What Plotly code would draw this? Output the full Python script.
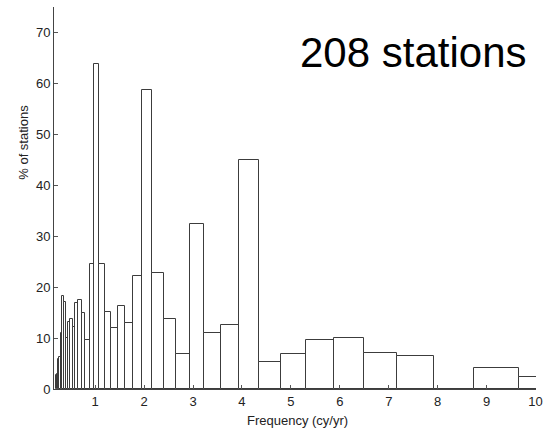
import plotly.graph_objects as go

# Histogram bin edges (frequency, cy/yr) and heights (% of stations)
bin_edges = [0.198, 0.219, 0.242, 0.267, 0.295, 0.326, 0.360, 0.398, 0.440, 0.486,
             0.537, 0.593, 0.655, 0.724, 0.800, 0.884, 0.977, 1.079, 1.193, 1.318,
             1.457, 1.610, 1.779, 1.966, 2.17, 2.40, 2.66, 2.93, 3.23, 3.58,
             3.94, 4.34, 4.80, 5.31, 5.88, 6.49, 7.17, 7.93, 8.74, 9.66, 10.67]
pct_stations = [2.7, 2.9, 5.9, 6.3, 10.9, 18.3, 17.1, 10.1, 13.2, 13.7,
                12.2, 16.8, 17.5, 15.0, 9.7, 24.5, 63.9, 24.5, 15.1, 12.0,
                16.2, 13.0, 22.2, 58.8, 22.7, 13.8, 6.9, 32.4, 10.95, 12.5,
                44.9, 5.4, 6.9, 9.6, 10.1, 7.0, 6.5, 0.0, 4.1, 2.3]
x_ticks = [1, 2, 3, 4, 5, 6, 7, 8, 9, 10]
y_ticks = [0, 10, 20, 30, 40, 50, 60, 70]
title_text = "208 stations"

centers = [(a + b) / 2 for a, b in zip(bin_edges[:-1], bin_edges[1:])]
widths = [b - a for a, b in zip(bin_edges[:-1], bin_edges[1:])]

fig = go.Figure()
fig.add_trace(go.Bar(
    x=centers, y=pct_stations, width=widths,
    marker=dict(color="white", line=dict(color="#3c3c3c", width=1)),
    showlegend=False, hoverinfo="x+y",
))

FONT = "Liberation Sans, Arial, sans-serif"
fig.update_layout(
    width=550, height=433,
    margin=dict(l=54, r=10, t=7, b=44),
    paper_bgcolor="white", plot_bgcolor="white",
    bargap=0,
    font=dict(family=FONT, size=13, color="#222"),
    xaxis=dict(range=[0.158, 10.01], tickvals=x_ticks, ticks="inside", ticklen=4,
               tickcolor="#555", showline=True, linecolor="#444", linewidth=1,
               showgrid=False, zeroline=False, tickfont=dict(size=13)),
    yaxis=dict(range=[0, 75], tickvals=y_ticks, ticks="inside", ticklen=4,
               tickcolor="#555", showline=True, linecolor="#444", linewidth=1,
               showgrid=False, zeroline=False, tickfont=dict(size=13)),
    annotations=[
        dict(text=title_text, x=0.745, y=0.88, xref="paper", yref="paper",
             xanchor="center", yanchor="middle", showarrow=False,
             font=dict(family=FONT, size=42, color="black")),
        dict(text="% of stations", x=-0.064, y=0.645, xref="paper", yref="paper",
             xanchor="center", yanchor="middle", showarrow=False, textangle=-90,
             font=dict(family=FONT, size=13, color="#222")),
        dict(text="Frequency (cy/yr)", x=0.5047, y=-0.082, xref="paper", yref="paper",
             xanchor="center", yanchor="middle", showarrow=False,
             font=dict(family=FONT, size=13, color="#222")),
    ],
)

fig.write_html("out.html",
               config={"displayModeBar": False},
               post_script="document.body.style.margin='0px';document.body.style.overflow='hidden';")
